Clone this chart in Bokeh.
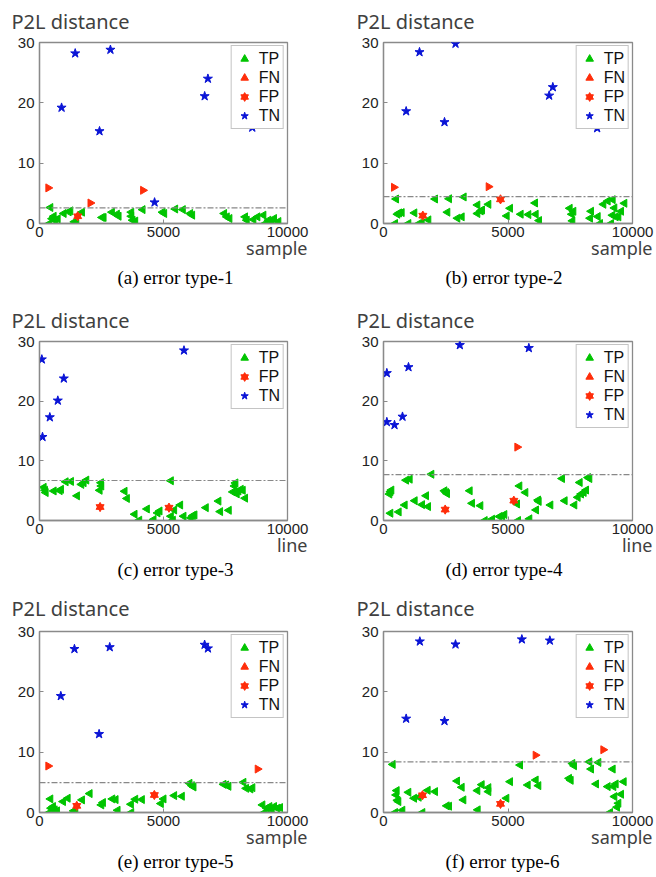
import math
from bokeh.plotting import figure
from bokeh.layouts import gridplot
from bokeh.models import Range1d, FixedTicker, Span, Legend, LegendItem, Title
from bokeh.embed import file_html
from bokeh.resources import INLINE

# ---------------- data ----------------
# (a) error type-1
a_tp_x = [443, 403, 510, 577, 644, 738, 980, 1181, 1248, 1409, 1490, 1718, 2523, 2590, 2926, 3128, 3195, 3705, 3705, 3758, 3866, 4161, 4966, 5034, 5477, 5785, 6081, 6161, 7450, 7557, 7664, 8295, 8362, 8631, 8792, 9034, 9101, 9235, 9369, 9463, 9638]
a_tp_y = [2.65, 0.0, 0.8, 1.2, 0.55, 0.77, 1.66, 1.93, 2.1, 0.28, 0.0, 1.88, 1.0, 1.0, 1.88, 1.55, 1.2, 1.88, 1.2, 0.55, 0.4, 2.3, 1.88, 1.66, 2.4, 2.3, 1.66, 1.38, 1.66, 1.1, 0.83, 1.1, 0.55, 0.66, 1.1, 1.38, 0.0, 0.55, 0.44, 0.83, 0.33]
a_fn_x = [350, 2050, 4170]
a_fn_y = [5.9, 3.4, 5.5]
a_fp_x = [1540]
a_fp_y = [1.2]
a_tn_x = [1440, 890, 2860, 2420, 6660, 6790, 8580, 4640]
a_tn_y = [28.2, 19.2, 28.8, 15.3, 21.1, 24.0, 15.9, 3.5]
a_thr = 2.6

# (b) error type-2
b_tp_x = [509, 469, 562, 629, 736, 1004, 1245, 1432, 1540, 1807, 2075, 2570, 2637, 2972, 3146, 3226, 3775, 3775, 3909, 3963, 4217, 4953, 5087, 5515, 5823, 6091, 6118, 6252, 7483, 7631, 7564, 7590, 8340, 8300, 8608, 8701, 8835, 9009, 9210, 9143, 9277, 9197, 9330, 9438, 9545, 9679]
b_tp_y = [4.06, 0.0, 1.54, 1.76, 1.81, 0.0, 1.76, 0.0, 0.0, 0.6, 4.06, 1.87, 4.1, 0.88, 1.1, 4.4, 3.07, 1.65, 2.08, 2.25, 3.18, 1.26, 2.52, 1.54, 1.48, 3.4, 1.54, 0.49, 2.52, 2.03, 1.54, 0.44, 2.03, 0.88, 1.15, 0.0, 3.18, 3.73, 3.95, 0.0, 2.58, 1.37, 1.1, 1.1, 2.03, 3.35]
b_fn_x = [415, 4217]
b_fn_y = [6.0, 6.1]
b_fp_x = [1580, 4699]
b_fp_y = [1.3, 4.0]
b_tn_x = [1446, 910, 2892, 2450, 6653, 6800, 8581]
b_tn_y = [28.4, 18.6, 29.8, 16.8, 21.2, 22.6, 15.8]
b_thr = 4.45

# (c) error type-3
c_tp_x = [174, 228, 255, 577, 819, 872, 1060, 1275, 1517, 1691, 1785, 1893, 2430, 2483, 2497, 3436, 3530, 3839, 4027, 4336, 4604, 4765, 4846, 5302, 5302, 5383, 5436, 5678, 5812, 6107, 6188, 6255, 6711, 7221, 7289, 7638, 7799, 7866, 7906, 7960, 8027, 8121, 8201, 8295]
c_tp_y = [5.56, 5.06, 4.68, 4.95, 5.0, 5.23, 6.49, 6.55, 4.13, 6.05, 6.33, 6.77, 5.06, 6.33, 5.78, 4.9, 3.69, 1.05, 0.05, 1.93, 0.17, 1.27, 1.6, 6.66, 0.72, 0.05, 1.76, 2.59, 0.72, 0.44, 0.83, 0.94, 2.15, 3.25, 1.49, 1.71, 4.79, 5.78, 6.3, 4.46, 4.95, 5.23, 5.06, 3.74]
c_fn_x = []
c_fn_y = []
c_fp_x = [2443, 5221]
c_fp_y = [2.26, 2.15]
c_tn_x = [94, 121, 416, 738, 980, 5826]
c_tn_y = [27.0, 14.0, 17.3, 20.1, 23.8, 28.5]
c_thr = 6.7

# (d) error type-4
d_tp_x = [281, 241, 321, 281, 615, 856, 910, 1057, 1258, 1553, 1714, 1794, 1928, 2450, 2517, 2557, 3467, 3560, 3896, 4070, 4365, 4659, 4766, 4860, 5368, 5408, 5462, 5703, 5863, 6131, 6212, 6238, 6707, 7281, 7175, 7670, 7804, 7885, 7938, 8045, 8139, 8219, 8273]
d_tp_y = [4.82, 4.43, 5.1, 1.22, 1.44, 2.6, 6.76, 6.92, 3.32, 2.66, 4.15, 2.33, 7.75, 4.98, 4.7, 4.5, 4.98, 2.88, 2.49, 0.0, 0.22, 0.66, 0.77, 1.0, 2.77, 0.0, 5.8, 4.7, 0.28, 1.77, 3.43, 3.2, 2.6, 3.32, 7.03, 2.6, 3.88, 6.37, 4.43, 4.7, 5.1, 7.2, 7.03]
d_fn_x = [5368]
d_fn_y = [12.3]
d_fp_x = [2477, 5234]
d_fp_y = [1.83, 3.32]
d_tn_x = [134, 134, 442, 763, 1004, 3066, 5837]
d_tn_y = [24.7, 16.5, 16.0, 17.4, 25.7, 29.4, 28.9]
d_thr = 7.7

# (e) error type-5
e_tp_x = [443, 403, 470, 550, 617, 711, 953, 1141, 1383, 1450, 1718, 2027, 2497, 2564, 2940, 3074, 3154, 3691, 3705, 3866, 4134, 4899, 5007, 5436, 5745, 6054, 6148, 6215, 7423, 7530, 7624, 8228, 8336, 8510, 8590, 8993, 9074, 9168, 9275, 9369, 9463, 9597, 9705]
e_tp_y = [2.25, 0.0, 0.71, 0.99, 0.44, 0.27, 1.81, 2.36, 0.27, 0.0, 2.09, 3.13, 1.26, 1.65, 2.25, 2.14, 0.38, 1.37, 0.0, 2.2, 2.14, 1.48, 2.25, 2.8, 2.69, 4.84, 4.45, 4.23, 4.67, 4.56, 4.34, 5.0, 4.0, 3.9, 4.12, 1.26, 0.0, 0.71, 0.99, 0.44, 0.99, 0.71, 0.82]
e_fn_x = [349, 8792]
e_fn_y = [7.7, 7.2]
e_fp_x = [1503, 4631]
e_fp_y = [1.1, 2.9]
e_tn_x = [1409, 859, 2832, 2403, 6658, 6792]
e_tn_y = [27.1, 19.3, 27.4, 13.0, 27.8, 27.2]
e_thr = 4.95

# (f) error type-6
f_tp_x = [375, 469, 535, 509, 562, 602, 763, 1004, 1232, 1419, 1566, 1780, 2075, 2544, 2637, 2958, 3146, 3213, 3775, 3789, 3949, 4217, 4217, 4940, 5087, 5489, 5797, 6118, 6225, 7456, 7523, 7590, 7657, 8273, 8340, 8541, 8635, 9009, 9103, 9210, 9237, 9330, 9277, 9384, 9438, 9545, 9652]
f_tp_y = [7.97, 0.0, 3.63, 2.91, 2.03, 1.81, 0.38, 3.35, 2.36, 2.53, 0.0, 3.68, 3.46, 1.1, 1.04, 5.22, 4.18, 2.09, 3.63, 0.44, 4.62, 4.12, 3.46, 2.36, 5.11, 7.86, 4.56, 5.38, 4.45, 5.66, 5.33, 8.13, 7.75, 8.4, 7.2, 4.73, 8.3, 4.29, 0.0, 7.2, 4.29, 4.73, 2.64, 0.88, 1.54, 3.02, 5.11]
f_fn_x = [6104, 8822]
f_fn_y = [9.5, 10.4]
f_fp_x = [1566, 4699]
f_fp_y = [2.86, 1.43]
f_tn_x = [1459, 910, 2892, 2450, 5556, 6680]
f_tn_y = [28.35, 15.55, 27.86, 15.16, 28.7, 28.5]
f_thr = 8.4

captions = ["(a) error type-1", "(b) error type-2", "(c) error type-3",
            "(d) error type-4", "(e) error type-5", "(f) error type-6"]
xlabels = ["sample", "sample", "line", "line", "sample", "sample"]
x_ticks = [0, 5000, 10000]
y_ticks = [0, 10, 20, 30]

GREEN = "#00c400"
RED = "#ff2d0a"
BLUE = "#0a14d6"
GRAY = "#8a8a8a"
SANS = "Noto Sans"

row_specs = [  # height, top border, bottom border, caption standoff, title standoff
    (300, 42, 77, 18, 12),
    (285, 41, 63, 8, 11),
    (292, 46, 64, 8, 16),
]
col_specs = [  # left border, right border, title offset, caption offset
    (39, 41, -28, 78),
    (55, 24, -27, 62),
]


def set_standoff(t, v):
    try:
        t.standoff = v
    except Exception:
        t.standoff = 0


def make_panel(idx, tpx, tpy, fnx, fny, fpx, fpy, tnx, tny, thr):
    r, c = divmod(idx, 2)
    H, bt, bb, cap_so, tit_so = row_specs[r]
    bl, br, t_off, cap_off = col_specs[c]
    W = 328
    p = figure(width=W, height=H, output_backend="svg", toolbar_location=None,
               x_range=Range1d(0, 10000), y_range=Range1d(0, 30),
               min_border_left=bl, min_border_right=br,
               min_border_top=bt, min_border_bottom=bb)
    p.grid.visible = False
    p.outline_line_color = GRAY
    p.outline_line_width = 1.3
    p.background_fill_color = "white"
    p.border_fill_color = "white"
    for ax, ticks in ((p.xaxis[0], x_ticks), (p.yaxis[0], y_ticks)):
        ax.ticker = FixedTicker(ticks=ticks)
        ax.axis_line_color = GRAY
        ax.axis_line_width = 1.3
        ax.major_tick_line_color = GRAY
        ax.major_tick_in = 4
        ax.major_tick_out = 0
        ax.minor_tick_line_color = None
        ax.major_label_text_font = "Liberation Sans"
        ax.major_label_text_font_size = "15px"
        ax.major_label_text_color = "#222222"
    p.xaxis[0].major_label_standoff = 3
    p.yaxis[0].major_label_standoff = 5

    p.add_layout(Span(location=thr, dimension="width", line_color="#888888",
                      line_width=1.2, line_dash="6 2 2 2"))

    items = []
    r_tp = p.scatter(tpx, tpy, marker="triangle", angle=math.pi / 2, size=8,
                     fill_color=GREEN, line_color=GREEN)
    items.append(LegendItem(label="TP", renderers=[r_tp]))
    if fnx:
        r_fn = p.scatter(fnx, fny, marker="triangle", angle=-math.pi / 2, size=8,
                         fill_color=RED, line_color=RED)
        items.append(LegendItem(label="FN", renderers=[r_fn]))
    r_fp1 = p.scatter(fpx, fpy, marker="triangle", size=8, fill_color=RED, line_color=RED)
    r_fp2 = p.scatter(fpx, fpy, marker="inverted_triangle", size=8, fill_color=RED, line_color=RED)
    items.append(LegendItem(label="FP", renderers=[r_fp1, r_fp2]))
    r_tn = p.scatter(tnx, tny, marker="star", size=9.5, fill_color=BLUE, line_color=BLUE)
    items.append(LegendItem(label="TN", renderers=[r_tn]))

    leg = Legend(items=items, location="top_right")
    leg.border_line_color = GRAY
    leg.border_line_width = 1.3
    leg.background_fill_alpha = 1.0
    leg.label_text_font = "Liberation Sans"
    leg.label_text_font_size = "16px"
    leg.label_text_color = "#111111"
    leg.margin = 3
    leg.padding = 3
    leg.spacing = 0
    leg.glyph_width = 19
    leg.glyph_height = 19
    leg.label_height = 19
    leg.label_standoff = 5
    p.add_layout(leg, "center")

    # title above the frame
    p.title.text = "P2L distance"
    p.title.align = "left"
    p.title.offset = t_off
    p.title.text_font = SANS
    p.title.text_font_size = "20px"
    p.title.text_font_style = "normal"
    p.title.text_color = "#404040"
    p.title.vertical_align = "top"
    set_standoff(p.title, tit_so)

    # x label, right aligned, below the tick labels
    xl = Title(text=xlabels[idx], align="right", offset=-20, text_font=SANS,
               text_font_size="18px", text_font_style="normal", text_color="#404040",
               vertical_align="top")
    set_standoff(xl, -8)
    p.add_layout(xl, "below")

    # caption under the panel
    cap = Title(text=captions[idx], align="left", offset=cap_off,
                text_font="Liberation Serif", text_font_size="19px",
                text_font_style="normal", text_color="#000000", vertical_align="top")
    set_standoff(cap, cap_so)
    p.add_layout(cap, "below")
    return p


pa = make_panel(0, a_tp_x, a_tp_y, a_fn_x, a_fn_y, a_fp_x, a_fp_y, a_tn_x, a_tn_y, a_thr)
pb = make_panel(1, b_tp_x, b_tp_y, b_fn_x, b_fn_y, b_fp_x, b_fp_y, b_tn_x, b_tn_y, b_thr)
pc = make_panel(2, c_tp_x, c_tp_y, c_fn_x, c_fn_y, c_fp_x, c_fp_y, c_tn_x, c_tn_y, c_thr)
pd = make_panel(3, d_tp_x, d_tp_y, d_fn_x, d_fn_y, d_fp_x, d_fp_y, d_tn_x, d_tn_y, d_thr)
pe = make_panel(4, e_tp_x, e_tp_y, e_fn_x, e_fn_y, e_fp_x, e_fp_y, e_tn_x, e_tn_y, e_thr)
pf = make_panel(5, f_tp_x, f_tp_y, f_fn_x, f_fn_y, f_fp_x, f_fp_y, f_tn_x, f_tn_y, f_thr)

grid = gridplot([[pa, pb], [pc, pd], [pe, pf]], toolbar_location=None)

open("out.html", "w").write(file_html(grid, INLINE))
